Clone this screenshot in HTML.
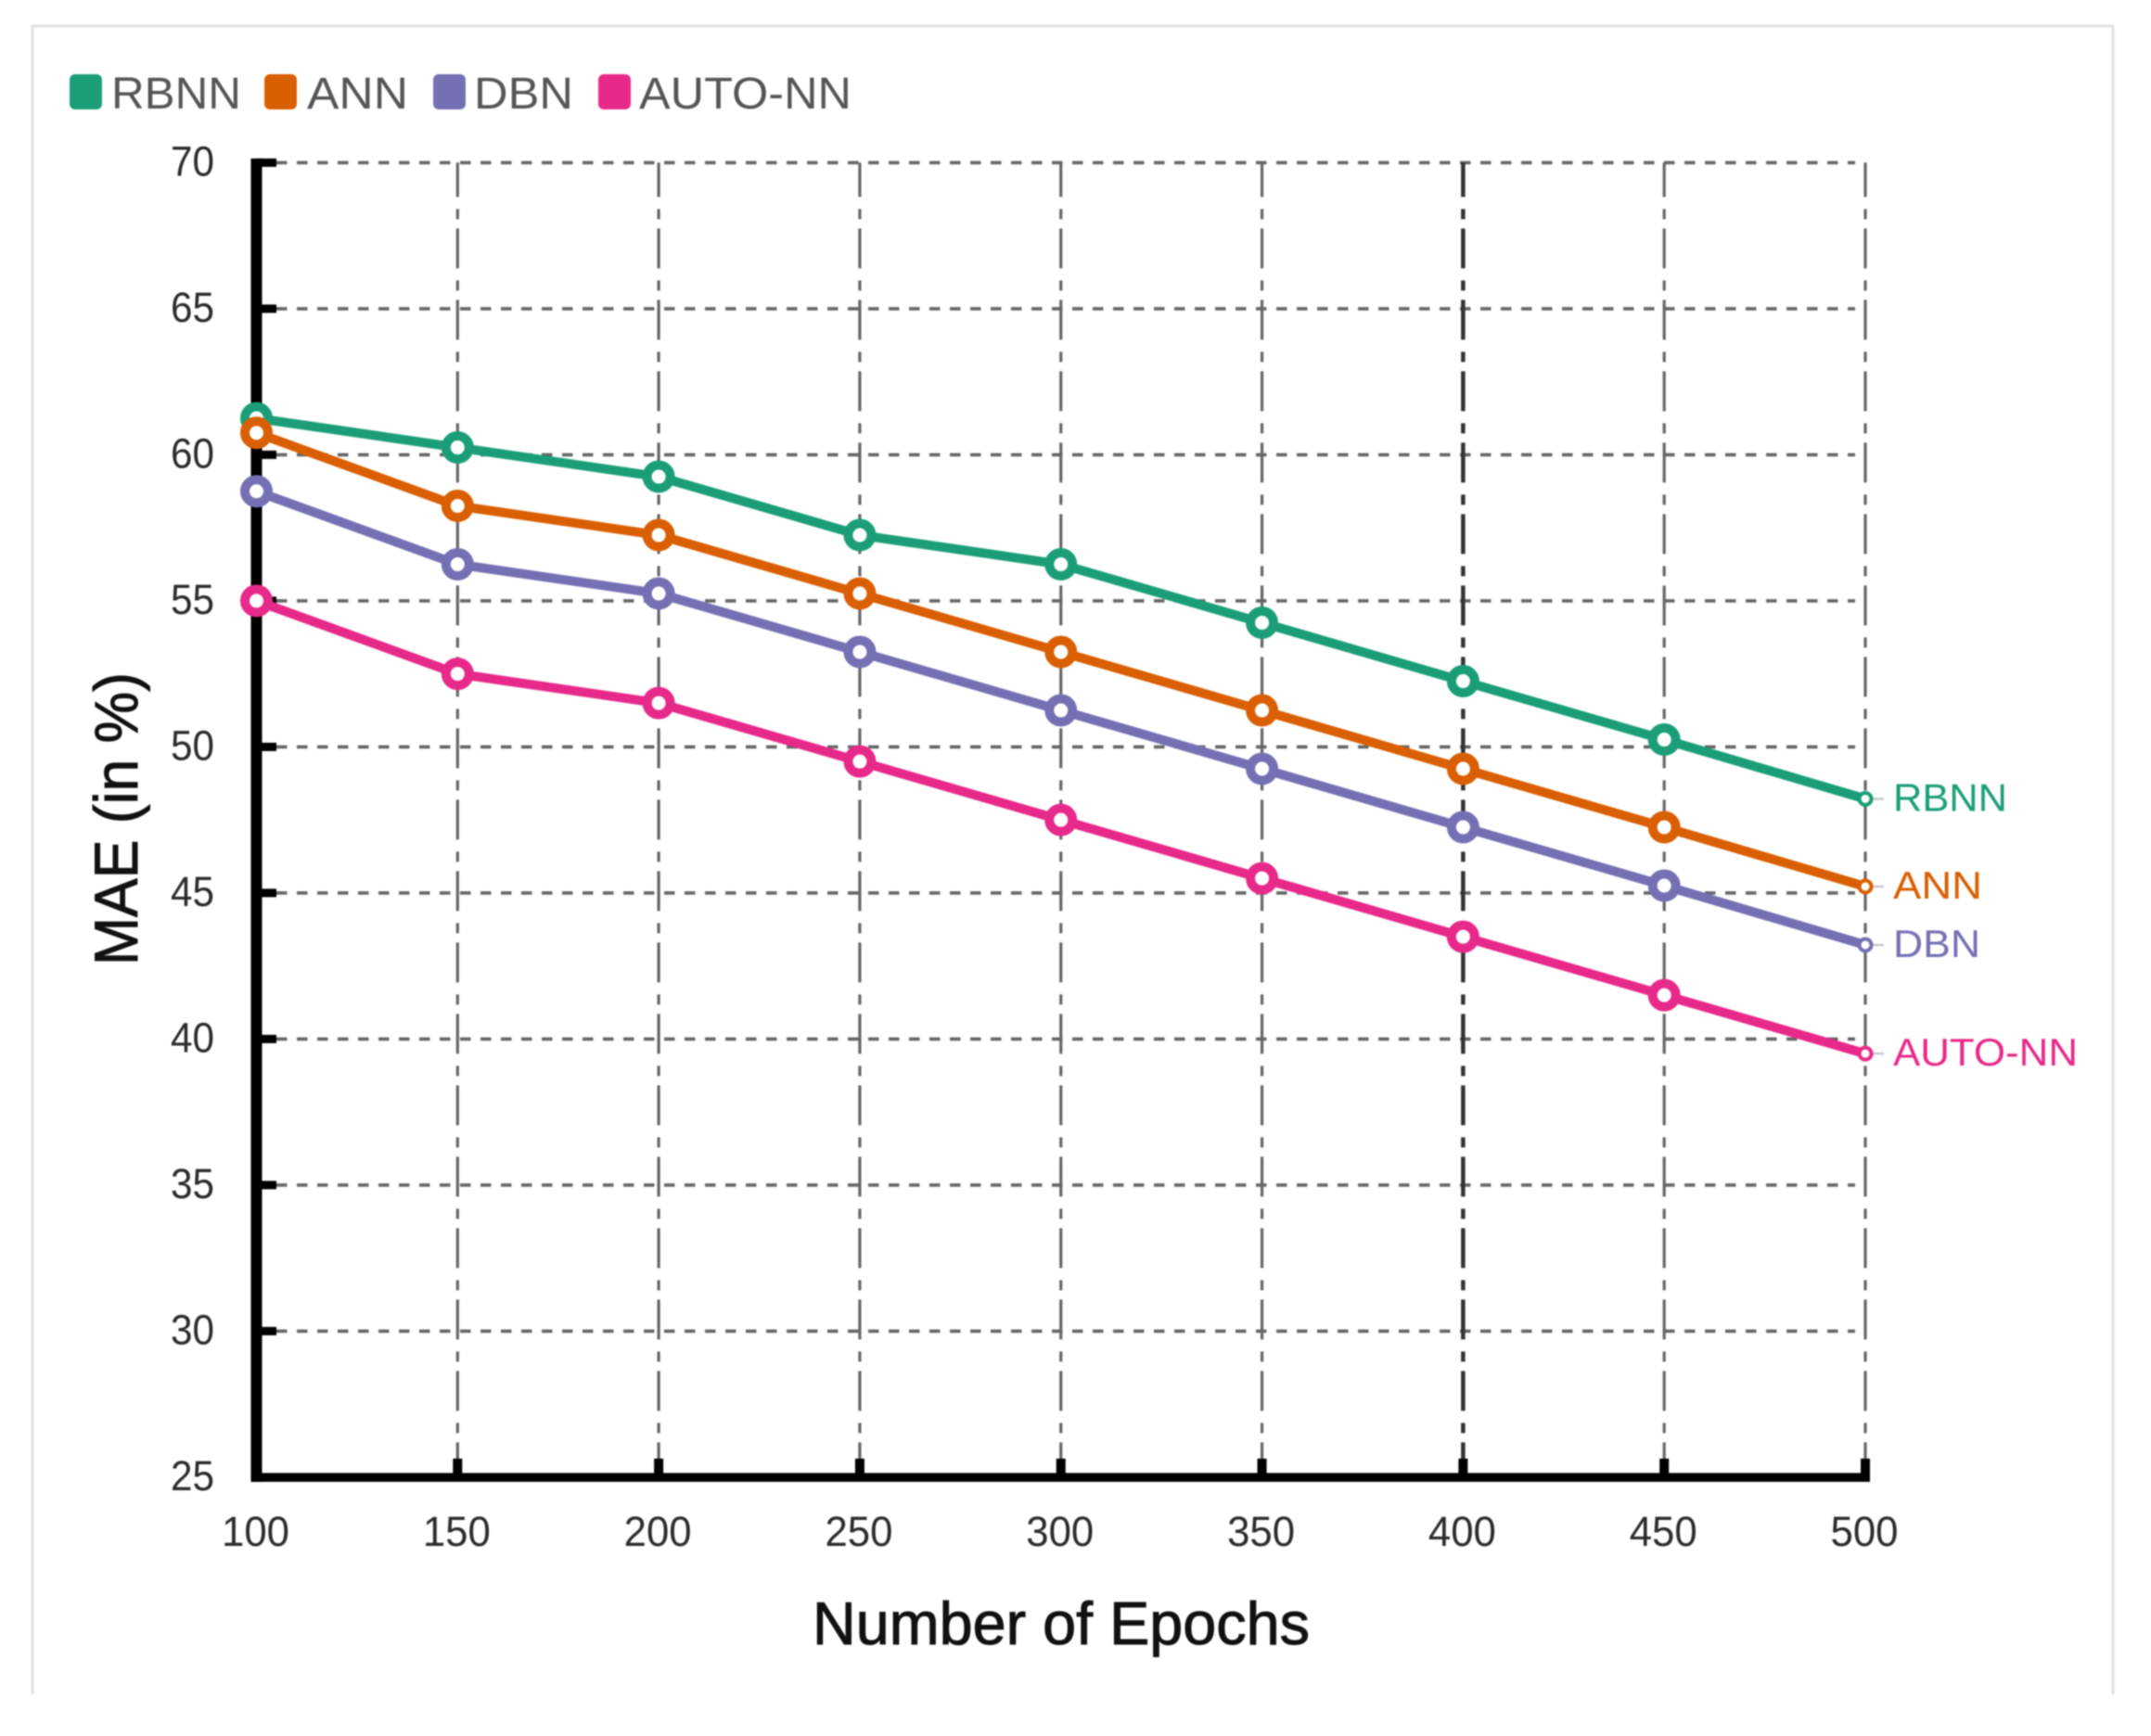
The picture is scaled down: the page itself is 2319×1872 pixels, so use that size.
<!DOCTYPE html>
<html lang="en">
<head>
<meta charset="utf-8">
<title>MAE vs Number of Epochs</title>
<style>
html,body{margin:0;padding:0;background:#fff;}
body{width:2319px;height:1872px;overflow:hidden;}
svg{display:block;filter:blur(0.7px);font-family:"Liberation Sans",sans-serif;}
</style>
</head>
<body>
<svg id="chart" xmlns="http://www.w3.org/2000/svg" width="2319" height="1872" viewBox="0 0 2319 1872">
  <rect x="0" y="0" width="2319" height="1872" fill="#ffffff"/>
  <path d="M35 1827V28H2278V1827" fill="none" stroke="#e2e2e2" stroke-width="3"/>

  <g>
    <g>
      <rect x="75" y="80" width="35" height="38" rx="6" fill="#1b9e77"/>
      <text x="120" y="117" font-size="48" fill="#555555" textLength="140" lengthAdjust="spacingAndGlyphs">RBNN</text>
    </g>
    <g>
      <rect x="285" y="80" width="35" height="38" rx="6" fill="#d95f02"/>
      <text x="331" y="117" font-size="48" fill="#555555" textLength="109" lengthAdjust="spacingAndGlyphs">ANN</text>
    </g>
    <g>
      <rect x="467" y="80" width="35" height="38" rx="6" fill="#7570b3"/>
      <text x="511" y="117" font-size="48" fill="#555555" textLength="107" lengthAdjust="spacingAndGlyphs">DBN</text>
    </g>
    <g>
      <rect x="645" y="80" width="35" height="38" rx="6" fill="#e7298a"/>
      <text x="689" y="117" font-size="48" fill="#555555" textLength="229" lengthAdjust="spacingAndGlyphs">AUTO-NN</text>
    </g>
  </g>

  <g id="grid"></g>
  <g id="axes"></g>
  <g id="series"></g>

  <text x="876" y="1773" font-size="65" fill="#111111" stroke="#111111" stroke-width="1" textLength="536" lengthAdjust="spacingAndGlyphs">Number of Epochs</text>
  <text transform="translate(148,1041) rotate(-90)" x="0" y="0" font-size="66" fill="#111111" stroke="#111111" stroke-width="1" textLength="316" lengthAdjust="spacingAndGlyphs">MAE (in %)</text>
</svg>

<script>
const epochs = [100, 150, 200, 250, 300, 350, 400, 450, 500];
const yTicks = [25, 30, 35, 40, 45, 50, 55, 60, 65, 70];
const rbnnValues = [61.25, 60.25, 59.25, 57.25, 56.25, 54.25, 52.25, 50.25, 48.22];
const annValues = [60.75, 58.25, 57.25, 55.25, 53.25, 51.25, 49.25, 47.25, 45.22];
const dbnValues = [58.75, 56.25, 55.25, 53.25, 51.25, 49.25, 47.25, 45.25, 43.22];
const autoNnValues = [55.0, 52.5, 51.5, 49.5, 47.5, 45.5, 43.5, 41.5, 39.5];

const NS = 'http://www.w3.org/2000/svg';
function xScale(v) { return 276.5 + (v - 100) * (2011 - 276.5) / 400; }
function yScale(v) { return 175.4 + (70 - v) * 31.5; }
function make(tag, parent, attrs) {
  const el = document.createElementNS(NS, tag);
  for (const k in attrs) el.setAttribute(k, attrs[k]);
  parent.appendChild(el);
  return el;
}

const grid = document.getElementById('grid');
const axes = document.getElementById('axes');
const seriesGroup = document.getElementById('series');
const yBase = yScale(25);

// horizontal grid, ticks and labels
yTicks.forEach(function (t) {
  const y = yScale(t);
  if (t !== 25) {
    const h = make('line', grid, {x1: 298, x2: 2000, y1: y, y2: y, stroke: '#666666', 'stroke-width': 3.6, 'stroke-dasharray': '11.5 10.5'});
    
    
    const tk = make('rect', axes, {x: 276, y: y - 4.5, width: 22, height: 9, fill: '#000000'});
    
    
  }
  const lb = make('text', axes, {x: 231, y: y + 14, 'text-anchor': 'end', 'font-size': 45, fill: '#2b2b2b', textLength: 47, lengthAdjust: 'spacingAndGlyphs'});
  lb.textContent = String(t);
  
  
});

// vertical grid, ticks and labels
epochs.forEach(function (e) {
  const x = xScale(e);
  if (e !== 100) {
    const v = make('line', grid, {x1: x, x2: x, y1: yScale(70), y2: yBase - 16, stroke: e === 400 ? '#333333' : '#666666', 'stroke-width': e === 400 ? 4.5 : 3.2, 'stroke-dasharray': '43 13 11 10', 'stroke-dashoffset': 6});
    
    
    const tk = make('rect', axes, {x: x - 5, y: yBase - 20, width: 10, height: 20, fill: '#000000'});
    
    
  }
  const lb = make('text', axes, {x: x - 1, y: 1667, 'text-anchor': 'middle', 'font-size': 45, fill: '#2b2b2b', textLength: 73, lengthAdjust: 'spacingAndGlyphs'});
  lb.textContent = String(e);
  
  
});

// axis lines
const yAxis = make('rect', axes, {x: 270.5, y: yScale(70) - 4.5, width: 12, height: yBase - yScale(70) + 9.5, fill: '#000000'});


const xAxis = make('rect', axes, {x: 270.5, y: yBase - 4.5, width: xScale(500) - 270.5 + 5, height: 9.5, fill: '#000000'});



// series
const seriesList = [
  {name: 'RBNN', slug: 'rbnn', color: '#1b9e77', values: rbnnValues, width: 123},
  {name: 'ANN', slug: 'ann', color: '#d95f02', values: annValues, width: 96},
  {name: 'DBN', slug: 'dbn', color: '#7570b3', values: dbnValues, width: 94},
  {name: 'AUTO-NN', slug: 'auto-nn', color: '#e7298a', values: autoNnValues, width: 199}
];

seriesList.forEach(function (s) {
  const g = make('g', seriesGroup, {});
  
  

  const pts = s.values.map(function (v, i) { return xScale(epochs[i]) + ',' + yScale(v); }).join(' ');
  const last = s.values.length - 1;
  const lx = xScale(epochs[last]);
  const ly = yScale(s.values[last]);

  const leader = make('line', g, {x1: lx, x2: lx + 20, y1: ly, y2: ly, stroke: '#c8c8c8', 'stroke-width': 2.5});
  
  

  const line = make('polyline', g, {points: pts, fill: 'none', stroke: s.color, 'stroke-width': 10, 'stroke-linejoin': 'round'});
  
  

  s.values.forEach(function (v, i) {
    const isLast = i === last;
    const c = make('circle', g, {cx: xScale(epochs[i]), cy: yScale(v), r: isLast ? 6.5 : 12.5, fill: '#ffffff', stroke: s.color, 'stroke-width': isLast ? 4 : 10});
    
    
  });

  const lab = make('text', g, {x: 2041, y: ly + 13, 'font-size': 42, fill: s.color, textLength: s.width, lengthAdjust: 'spacingAndGlyphs'});
  lab.textContent = s.name;
  
  
});
</script>
</body>
</html>
